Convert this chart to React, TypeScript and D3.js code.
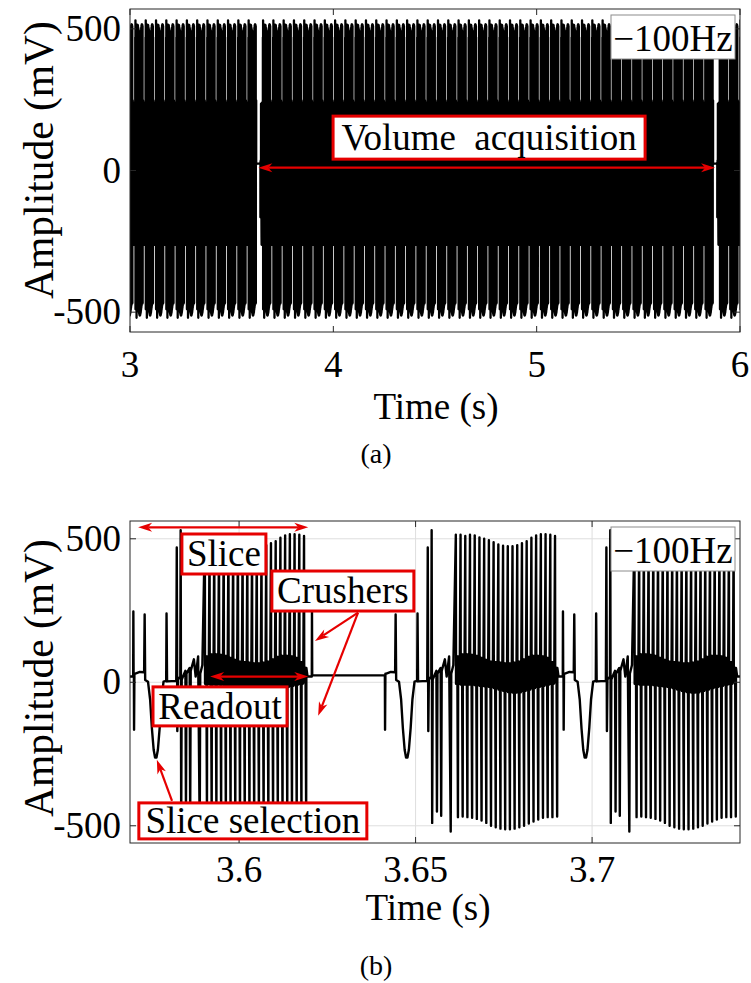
import React, { useMemo } from 'react';
import * as d3 from 'd3';

// ---------- Sequence timing ----------
// Time of the first slice-selection lobe of each volume (s)
const volumeStarts = [1.4006, 3.6475, 5.8944];
const slicesPerVolume = 44;
const sliceSpacing = 0.0506; // s between consecutive slices

// ---------- Excitation block, relative to the slice-selection lobe (ms, mV) ----------
const prepTimes = [-5.8, -4.5, -3.3, -3.15, -3.0, -2.2, -1.6, -1.1, -0.6, -0.2, 0.2, 0.6, 1.1, 1.6, 2.2, 2.95, 3.05, 3.2, 5.8, 5.95, 6.1, 6.25, 6.95, 7.05, 7.2, 7.35, 8.4, 8.55, 8.7, 9.6, 9.75, 9.9, 10.8, 11.3, 12.0, 12.45, 12.6, 13.2];
const prepValues = [30, 36, 35, 236, 8, 2, -60, -160, -235, -262, -262, -235, -160, -60, 2, 5, 240, 3, 5, 470, -170, 10, 20, 530, -490, 10, 40, -450, 30, 50, -465, 40, 80, 20, 90, -520, 30, 60];

// ---------- EPI readout (one entry per lobe) ----------
const readoutFirst = 13.9; // ms after the slice-selection lobe
const readoutLast = 42.0; // ms
const lobeUp = [514, 514, 510, 514, 512, 505, 500, 495, 488, 480, 476, 474, 474, 478, 485, 492, 504, 512, 516, 516, 514, 510];
const lobeDown = [-470, -468, -470, -472, -476, -482, -490, -500, -505, -510, -512, -512, -510, -505, -500, -492, -485, -478, -472, -470, -470, -468];
const bandHigh = [90, 97, 97, 95, 92, 85, 78, 72, 70, 68, 66, 66, 68, 72, 80, 88, 92, 92, 90, 85, 70, 50];
const bandLow = [-5, -8, -8, -8, -10, -12, -14, -16, -20, -25, -30, -34, -36, -35, -30, -25, -20, -16, -12, -8, -5, 0];

// ---------- Crushers and idle level between volumes ----------
const crusherRise = 44.25; // ms after the slice-selection lobe
const crusherPeak = 247;
const crusherFall = -6.15; // ms before the slice-selection lobe
const crusherTrough = -165;
const idleLevel = 24;

// ---------- Axes ----------
const fullRange: [number, number] = [3, 6];
const fullTicks = [3, 4, 5, 6];
const zoomRange: [number, number] = [3.5691, 3.7419];
const zoomTicks = [3.6, 3.65, 3.7];
const ampTicks = [-500, 0, 500];
const offsetLabel = '\u2212100Hz';

const SERIF = 'Liberation Serif, DejaVu Serif, serif';
const RED = '#e60000';

type Pt = [number, number];

function buildTrace(t0: number, t1: number): Pt[] {
  const slices = volumeStarts.flatMap((v) => d3.range(slicesPerVolume).map((i) => v + i * sliceSpacing));
  const pts: Pt[] = [];
  const n = lobeUp.length;
  const period = (readoutLast - readoutFirst) / (n - 1);
  slices.forEach((s) => {
    if (s + 0.046 < t0 || s - 0.0065 > t1) return;
    const add = (dt: number, v: number) => pts.push([s + dt * 0.001, v]);
    add(crusherFall - 0.05, idleLevel);
    add(crusherFall, crusherTrough);
    add(crusherFall + 0.1, 30);
    prepTimes.forEach((dt, i) => add(dt, prepValues[i]));
    for (let k = 0; k < n; k++) {
      const t = readoutFirst + k * period;
      add(t, lobeUp[k]);
      add(t + 0.06, bandLow[k]);
      add(t + 0.18, bandHigh[k]);
      add(t + 0.3, bandLow[k]);
      add(t + 0.42, bandHigh[k]);
      add(t + 0.6, lobeDown[k]);
      add(t + 0.66, bandHigh[k]);
      if (k < n - 1) {
        add(t + 0.78, bandLow[k]);
        add(t + 0.9, bandHigh[k]);
        add(t + 1.02, bandLow[k]);
        add(t + 1.14, bandHigh[k]);
      }
    }
    add(43.0, 20);
    add(crusherRise - 0.05, 20);
    add(crusherRise, crusherPeak);
    add(crusherRise + 0.07, idleLevel);
  });
  return pts;
}

function arrowHead(x: number, y: number, a: number): string {
  const L = 14, W = 4.5, N = 10;
  const c = Math.cos(a), s = Math.sin(a);
  const p = (u: number, v: number) => `${x + u * c - v * s},${y + u * s + v * c}`;
  return `M${p(0, 0)}L${p(-L, W)}L${p(-N, 0)}L${p(-L, -W)}Z`;
}

function Arrow({ x1, y1, x2, y2, both = false }: { x1: number; y1: number; x2: number; y2: number; both?: boolean }) {
  const a = Math.atan2(y2 - y1, x2 - x1);
  const len = Math.hypot(x2 - x1, y2 - y1);
  const ux = (x2 - x1) / len, uy = (y2 - y1) / len;
  const sx = both ? x1 + ux * 10 : x1, sy = both ? y1 + uy * 10 : y1;
  return (
    <g>
      <line x1={sx} y1={sy} x2={x2 - ux * 10} y2={y2 - uy * 10} stroke={RED} strokeWidth={2.2} />
      <path d={arrowHead(x2, y2, a)} fill={RED} />
      {both && <path d={arrowHead(x1, y1, a + Math.PI)} fill={RED} />}
    </g>
  );
}

function LabelBox({ cx, cy, w, h, text, size = 37 }: { cx: number; cy: number; w: number; h: number; text: string; size?: number }) {
  return (
    <g>
      <rect x={cx - w / 2} y={cy - h / 2} width={w} height={h} fill="#fff" stroke={RED} strokeWidth={3} />
      <text x={cx} y={cy + size * 0.33} textAnchor="middle" fill="#000" style={{ whiteSpace: 'pre', fontFamily: SERIF, fontSize: size }}>
        {text}
      </text>
    </g>
  );
}

type PanelProps = {
  id: string;
  x: d3.ScaleLinear<number, number>;
  y: d3.ScaleLinear<number, number>;
  xTicks: number[];
  path: string;
  strokeW: number;
  xTickBase: number;
  xLabelX: number;
  xLabelBase: number;
  yLabelY: number;
  showGrid: boolean;
  children?: React.ReactNode;
};

function Panel({ id, x, y, xTicks, path, strokeW, xTickBase, xLabelX, xLabelBase, yLabelY, showGrid, children }: PanelProps) {
  const [x0, x1] = x.range();
  const [yb, yt] = y.range();
  const tick = 6;
  const axisColor = '#262626';
  const txt = { fontFamily: SERIF, fontSize: 37 };
  return (
    <g>
      <defs>
        <clipPath id={id}>
          <rect x={x0} y={yt} width={x1 - x0} height={yb - yt} />
        </clipPath>
      </defs>
      {showGrid && (
        <g stroke="#dedede" strokeWidth={1}>
          {xTicks.map((t) => (
            <line key={'gx' + t} x1={x(t)} x2={x(t)} y1={yt} y2={yb} />
          ))}
          {ampTicks.map((v) => (
            <line key={'gy' + v} x1={x0} x2={x1} y1={y(v)} y2={y(v)} />
          ))}
        </g>
      )}
      <path d={path} clipPath={`url(#${id})`} fill="none" stroke="#000" strokeWidth={strokeW} strokeLinejoin="round" />
      <rect x={x0} y={yt} width={x1 - x0} height={yb - yt} fill="none" stroke={axisColor} strokeWidth={1} />
      <g stroke={axisColor} strokeWidth={1}>
        {xTicks.map((t) => (
          <g key={'tx' + t}>
            <line x1={x(t)} x2={x(t)} y1={yb} y2={yb - tick} />
            <line x1={x(t)} x2={x(t)} y1={yt} y2={yt + tick} />
          </g>
        ))}
        {ampTicks.map((v) => (
          <g key={'ty' + v}>
            <line x1={x0} x2={x0 + tick} y1={y(v)} y2={y(v)} />
            <line x1={x1} x2={x1 - tick} y1={y(v)} y2={y(v)} />
          </g>
        ))}
      </g>
      <g fill="#000">
        {xTicks.map((t) => (
          <text key={'lx' + t} x={x(t)} y={xTickBase} textAnchor="middle" style={txt}>
            {String(t)}
          </text>
        ))}
        {ampTicks.map((v) => (
          <text key={'ly' + v} x={x0 - 9} y={y(v) + 12} textAnchor="end" style={txt}>
            {String(v)}
          </text>
        ))}
        <text x={xLabelX} y={xLabelBase} textAnchor="middle" style={txt}>
          Time (s)
        </text>
        <text transform={`translate(53,${yLabelY}) rotate(-90)`} textAnchor="middle" style={{ fontFamily: SERIF, fontSize: 41.5 }}>
          Amplitude (mV)
        </text>
      </g>
      {children}
      <rect x={x1 - 129} y={yt + 6} width={124} height={44} fill="#fff" stroke="#8c8c8c" strokeWidth={1} />
      <text x={x1 - 67} y={yt + 42} textAnchor="middle" fill="#000" style={txt}>
        {offsetLabel}
      </text>
    </g>
  );
}

export default function App() {
  const xTop = d3.scaleLinear().domain(fullRange).range([130, 740]);
  const yTop = d3.scaleLinear().domain([-570, 570]).range([332, 9]);
  const xBot = d3.scaleLinear().domain(zoomRange).range([130, 740]);
  const yBot = d3.scaleLinear().domain([-560, 562]).range([843, 521]);

  const topPath = useMemo(() => {
    const line = d3.line<Pt>().x((d) => xTop(d[0])).y((d) => yTop(d[1]));
    return line(buildTrace(fullRange[0] - 0.1, fullRange[1] + 0.1)) || '';
  }, []);
  const botPath = useMemo(() => {
    const line = d3.line<Pt>().x((d) => xBot(d[0])).y((d) => yBot(d[1]));
    return line(buildTrace(zoomRange[0] - 0.01, zoomRange[1] + 0.01)) || '';
  }, []);

  const cap = { fontFamily: SERIF, fontSize: 28 };

  return (
    <svg width={751} height={983} viewBox="0 0 751 983" style={{ position: 'absolute', left: 0, top: 0, background: '#fff' }}>
      <rect width={751} height={983} fill="#fff" />
      <Panel
        id="clipTop"
        x={xTop}
        y={yTop}
        xTicks={fullTicks}
        path={topPath}
        strokeW={2.3}
        xTickBase={377}
        xLabelX={436}
        xLabelBase={419}
        yLabelY={160}
        showGrid={false}
      >
        <Arrow x1={xTop(3.6312)} y1={yTop(10)} x2={xTop(5.8775)} y2={yTop(10)} both />
        <LabelBox cx={xTop(4.766)} cy={yTop(116)} w={312} h={43} text={'Volume  acquisition'} />
      </Panel>
      <Panel
        id="clipBot"
        x={xBot}
        y={yBot}
        xTicks={zoomTicks}
        path={botPath}
        strokeW={2.4}
        xTickBase={882}
        xLabelX={428}
        xLabelBase={920}
        yLabelY={678}
        showGrid={true}
      >
        <Arrow x1={xBot(3.5714)} y1={yBot(540)} x2={xBot(3.6196)} y2={yBot(540)} both />
        <Arrow x1={xBot(3.5918)} y1={yBot(20)} x2={xBot(3.6196)} y2={yBot(20)} both />
        <Arrow x1={xBot(3.6337)} y1={yBot(243)} x2={xBot(3.6215)} y2={yBot(144)} />
        <Arrow x1={xBot(3.6337)} y1={yBot(243)} x2={xBot(3.6224)} y2={yBot(-117)} />
        <Arrow x1={xBot(3.581)} y1={yBot(-413)} x2={xBot(3.5767)} y2={yBot(-270)} />
        <LabelBox cx={xBot(3.5957)} cy={yBot(447)} w={84} h={40} text="Slice" />
        <LabelBox cx={xBot(3.6294)} cy={yBot(318)} w={142} h={40} text="Crushers" />
        <LabelBox cx={xBot(3.5946)} cy={yBot(-84)} w={134} h={39} text="Readout" />
        <LabelBox cx={xBot(3.6039)} cy={yBot(-483)} w={228} h={36} text="Slice selection" />
      </Panel>
      <text x={376} y={463} textAnchor="middle" fill="#000" style={cap}>
        (a)
      </text>
      <text x={376} y={975} textAnchor="middle" fill="#000" style={cap}>
        (b)
      </text>
    </svg>
  );
}
